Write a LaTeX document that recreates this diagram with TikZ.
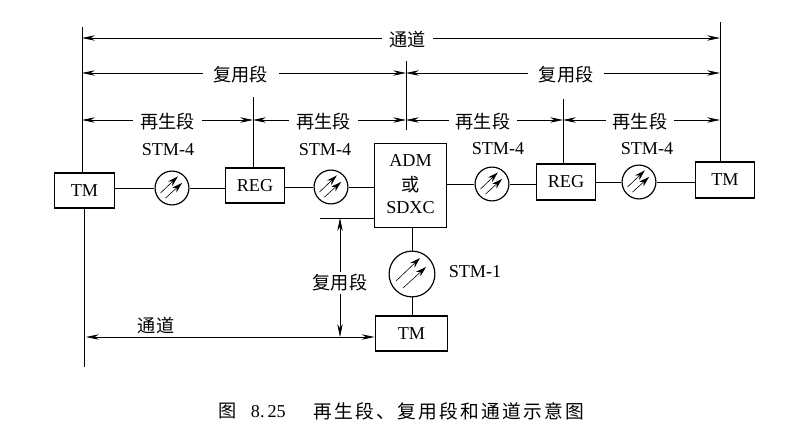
\documentclass[tikz,border=0pt]{standalone}
\usepackage{fontspec}
\setmainfont{Liberation Serif}
\newfontfamily\cjk{Noto Sans CJK SC}
\newfontfamily\cjkwide{Noto Sans CJK SC}[LetterSpace=12]
\usepackage{tikz}
\usetikzlibrary{arrows.meta}
\tikzset{
	box/.style={draw,line width=1pt,inner sep=0pt,rectangle},
	ring/.style={draw,line width=1pt,circle,inner sep=0pt,minimum size=34*0.85pt},
	span/.style={line width=0.6pt,{Stealth[length=11pt,width=4.6pt]}-{Stealth[length=11pt,width=4.6pt]}},
	lbl/.style={fill=white,inner xsep=6pt,inner ysep=2pt,yshift=-1.5pt},
	beam/.style={line width=0.5pt,-{Stealth[length=9pt,width=5.4pt]}}
}
\begin{document}
\begin{tikzpicture}[x=0.03cm,y=-0.03cm,font=\fontsize{15.5}{17}\selectfont]
	\useasboundingbox (0,0) rectangle (801,444);
	% boxes
	\foreach \name/\cx/\cy/\w/\h/\boxtext in {tml/84.5/190.5/61/35/TM,rega/255/185.5/60/35/REG,regb/566/182/60/36/REG,tmr/725/180/60/36/TM,tmb/411.5/333.5/73/35/TM}
	\node[box,minimum width=\w*0.85pt,minimum height=\h*0.85pt] (\name) at (\cx,\cy) {\boxtext};
	\node[box,minimum width=73*0.85pt,minimum height=85*0.85pt] (adm) at (410.5,185.5) {};
	\node (admtop) at (410.5,161) {ADM};
	\node (admor) at (410.5,185) {\cjk 或};
	\node (admbot) at (410.5,208) {SDXC};
	% rings
	\foreach \name/\cx/\cy/\s in {ringa/172/188/0.72,ringb/331/187/0.72,ringc/492/184/0.72,ringd/639/182/0.72}{
	\node[ring] (\name) at (\cx,\cy) {};
	\begin{scope}[shift={(\name.center)},scale=\s]
		\draw[beam] (-16,7)--(8,-16);
		\draw[beam] (-9,14)--(14,-7);
	\end{scope}}
	\node[ring,minimum size=46*0.85pt] (ringe) at (412,274) {};
	\begin{scope}[shift={(ringe.center)}]
		\draw[beam] (-16,7)--(8,-16);
		\draw[beam] (-9,14)--(14,-7);
	\end{scope}
	% chain
	\draw[line width=0.6pt] (tml.east|-ringa)--(ringa);
	\draw[line width=0.6pt] (ringa)--(rega.west|-ringa);
	\draw[line width=0.6pt] (rega.east|-ringb)--(ringb);
	\draw[line width=0.6pt] (ringb)--(adm.west|-ringb);
	\draw[line width=0.6pt] (adm.east|-ringc)--(ringc);
	\draw[line width=0.6pt] (ringc)--(regb.west|-ringc);
	\draw[line width=0.6pt] (regb.east|-ringd)--(ringd);
	\draw[line width=0.6pt] (ringd)--(tmr.west|-ringd);
	\draw[line width=0.6pt] (adm.south-|ringe)--(ringe);
	\draw[line width=0.6pt] (ringe)--(tmb.north-|ringe);
	% upright lines
	\coordinate (topl) at (82,27);
	\coordinate (botl) at (84,367);
	\coordinate (topr) at (720,22);
	\coordinate (topm) at (406,61);
	\coordinate (botm) at (406,130);
	\coordinate (topa) at (253,97);
	\coordinate (topb) at (563,99);
	\coordinate (ledge) at (320,218);
	\draw[line width=0.7pt] (topl)--(topl|-tml.north);
	\draw[line width=0.7pt] (tml.south-|botl)--(botl);
	\draw[line width=0.7pt] (topr)--(topr|-tmr.north);
	\draw[line width=0.7pt] (topm)--(botm);
	\draw[line width=0.7pt] (topa)--(topa|-rega.north);
	\draw[line width=0.7pt] (topb)--(topb|-regb.north);
	\draw[line width=0.7pt] (ledge)--(ledge-|adm.west);
	% spans
	\draw[span] (82,38)-- node[lbl,pos=0.51] (lblt) {\cjk 通道} (720,38);
	\draw[span] (82,73)-- node[lbl,pos=0.49,inner xsep=9pt] (lblma) {\cjk 复用段} (406,73);
	\draw[span] (406,73)-- node[lbl,pos=0.51,inner xsep=9pt] (lblmb) {\cjk 复用段} (720,73);
	\foreach \xa/\xb/\p/\name in {82/253/0.50/sa,253/406/0.46/sb,406/563/0.49/sc,563/720/0.49/sd}
	\draw[span] (\xa,120)-- node[lbl,pos=\p] (\name) {\cjk 再生段} (\xb,120);
	% stm labels
	\foreach \name/\cx/\cy/\stmtext in {stma/168/150/STM-4,stmb/325/150/STM-4,stmc/498/149/STM-4,stmd/647/149/STM-4,stme/475/272/STM-1}
	\node (\name) at (\cx,\cy) {\stmtext};
	% lower part
	\draw[span] (86,337)-- (tmb.west|-0,337);
	\node (lblb) at (156,325) {\cjk 通道};
	\draw[span] (340,218)-- node[lbl,pos=0.53,inner xsep=2pt] (lblr) {\cjk 复用段} (340,337);
	\node (capno) at (252,411) {\cjk 图\hspace{0.8em}{\rmfamily 8.\,25}};
	\node[font=\fontsize{16}{18}\selectfont] (caption) at (449,411) {\cjkwide 再生段、复用段和通道示意图};
\end{tikzpicture}
\end{document}
